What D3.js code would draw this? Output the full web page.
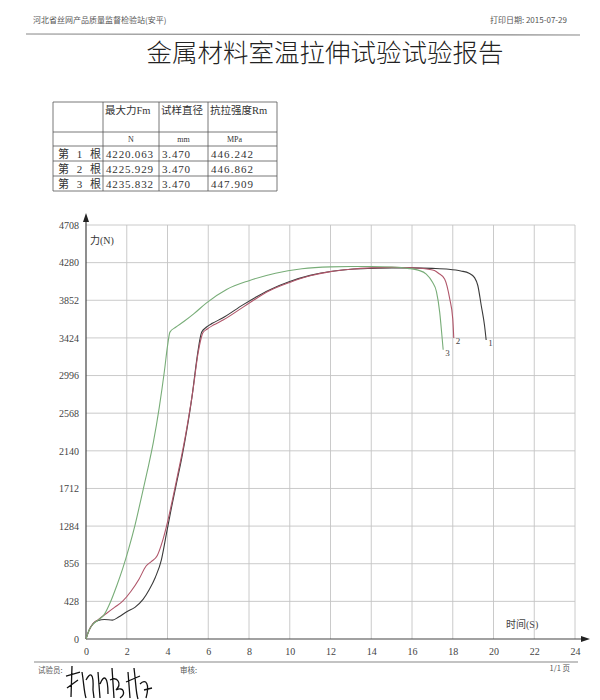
<!DOCTYPE html>
<html><head><meta charset="utf-8">
<script src="https://cdn.jsdelivr.net/npm/d3@7"></script>
<style>
html,body{margin:0;padding:0;background:#fff;}
svg{display:block;}
text{font-family:"Liberation Serif","DejaVu Serif","Noto Sans CJK SC",serif;fill:#333;}
</style></head>
<body>
<svg id="c" width="600" height="700"></svg>
<script>
// ---------- data ----------
const xTicks = [0,2,4,6,8,10,12,14,16,18,20,22,24];
const yTicks = [0,428,856,1284,1712,2140,2568,2996,3424,3852,4280,4708];

// specimen 1 (dark)
const t1 = [0,0.15,0.35,0.6,0.9,1.3,1.6,2.0,2.4,2.8,3.1,3.4,3.7,3.95,4.2,4.45,4.7,4.95,5.2,5.45,5.6,5.68,5.9,6.2,6.7,7.7,9.0,10,11,12,13,14,15,16,17,17.8,18.4,18.8,19.07,19.23,19.4,19.56,19.64];
const f1 = [0,100,175,212,222,215,250,310,360,450,560,700,900,1200,1500,1780,2060,2380,2750,3200,3420,3490,3545,3590,3650,3800,3970,4065,4135,4180,4205,4215,4220,4220,4215,4205,4185,4160,4110,4020,3790,3565,3400];
// specimen 2 (red)
const t2 = [0,0.15,0.35,0.6,1.0,1.4,1.8,2.2,2.6,2.95,3.2,3.5,3.75,4.0,4.25,4.5,4.75,5.0,5.25,5.5,5.65,5.73,5.95,6.25,6.75,7.75,9.0,10,11,12,13,14,15,16,16.8,17.1,17.3,17.6,17.85,18.0,18.05];
const f2 = [0,100,175,220,290,360,430,540,680,830,880,950,1110,1330,1590,1870,2150,2470,2830,3250,3420,3480,3525,3570,3630,3780,3960,4055,4130,4178,4205,4220,4226,4222,4205,4190,4160,4095,3870,3640,3424];
// specimen 3 (green)
const t3 = [0,0.15,0.35,0.6,0.9,1.2,1.5,1.8,2.1,2.4,2.7,3.0,3.3,3.6,3.85,4.0,4.12,4.4,4.8,5.3,5.9,6.9,8,9.3,10.6,12,13,14,15,15.8,16.3,16.7,17.0,17.2,17.36,17.48,17.53];
const f3 = [0,100,170,215,280,420,600,800,1030,1290,1590,1900,2230,2640,3050,3330,3490,3545,3610,3700,3820,3975,4075,4160,4210,4232,4236,4236,4230,4215,4195,4150,4060,3950,3715,3420,3290];
const seriesNames = ["1","2","3"];
const seriesColors = ["#3a3a3a","#b0566a","#78ad78"];

// table
const tableHeaders = ["最大力Fm","试样直径","抗拉强度Rm"];
const tableUnits = ["N","mm","MPa"];
const rowLabels = ["第 1 根","第 2 根","第 3 根"];
const maxForce = ["4220.063","4225.929","4235.832"];
const diameter = ["3.470","3.470","3.470"];
const strength = ["446.242","446.862","447.909"];

// ---------- drawing ----------
const svg = d3.select("#c");
const cjk = '"Noto Sans CJK SC",sans-serif';

// header
svg.append("text").attr("x",33).attr("y",23).attr("font-size",8).style("font-family",cjk).style("fill","#555")
  .text("河北省丝网产品质量监督检验站(安平)");
svg.append("text").attr("x",567).attr("y",23).attr("text-anchor","end").attr("font-size",8).style("font-family",cjk).style("fill","#555")
  .text("打印日期: 2015-07-29");
svg.append("line").attr("x1",26).attr("x2",580).attr("y1",34).attr("y2",35).attr("stroke","#888").attr("stroke-width",1.2);

// title
svg.append("text").attr("x",325).attr("y",62).attr("text-anchor","middle").attr("font-size",25.5)
  .style("font-family",cjk).style("font-weight",300).style("fill","#222")
  .text("金属材料室温拉伸试验试验报告");

// table
const colX = [53,103,159,208,277];
const rowY = [102,132,146,161,176,191];
const tg = svg.append("g");
colX.forEach(x=>tg.append("line").attr("x1",x).attr("x2",x).attr("y1",rowY[0]).attr("y2",rowY[rowY.length-1]).attr("stroke","#555").attr("stroke-width",0.8));
rowY.forEach(y=>tg.append("line").attr("x1",colX[0]).attr("x2",colX[colX.length-1]).attr("y1",y).attr("y2",y).attr("stroke","#555").attr("stroke-width",0.8));
tableHeaders.forEach((h,i)=>{
  tg.append("text").attr("x",colX[i+1]+2).attr("y",114).attr("font-size",10.5).style("fill","#333").text(h);
});
tableUnits.forEach((u,i)=>{
  tg.append("text").attr("x",(colX[i+1]+colX[i+2])/2 - (i===2?8:0)).attr("y",142).attr("text-anchor","middle").attr("font-size",8).style("fill","#333").text(u);
});
rowLabels.forEach((r,i)=>{
  const y = rowY[i+2]+11.5;
  tg.append("text").attr("x",58).attr("y",y).attr("font-size",11).style("fill","#333").attr("textLength",43).text(r);
  tg.append("text").attr("x",106).attr("y",y).attr("font-size",11).style("fill","#333").attr("textLength",47).text(maxForce[i]);
  tg.append("text").attr("x",162).attr("y",y).attr("font-size",11).style("fill","#333").attr("textLength",28).text(diameter[i]);
  tg.append("text").attr("x",211).attr("y",y).attr("font-size",11).style("fill","#333").attr("textLength",42).text(strength[i]);
});

// chart
const x = d3.scaleLinear().domain([0,24]).range([86,575]);
const y = d3.scaleLinear().domain([0,4708]).range([639,225]);
const g = svg.append("g");

// grid
g.selectAll(".vg").data(xTicks.slice(1)).join("line")
  .attr("x1",d=>x(d)).attr("x2",d=>x(d)).attr("y1",y(0)).attr("y2",y(4708))
  .attr("stroke","#c4c4c4").attr("stroke-width",0.9);
g.selectAll(".hg").data(yTicks.slice(1)).join("line")
  .attr("x1",x(0)).attr("x2",x(24)).attr("y1",d=>y(d)).attr("y2",d=>y(d))
  .attr("stroke","#c4c4c4").attr("stroke-width",0.9);

// axes
const yAxis = d3.axisLeft(y).tickValues(yTicks).tickSize(0).tickPadding(7).tickFormat(d=>d);
const ya = g.append("g").attr("transform",`translate(${x(0)},0)`).call(yAxis);
ya.select(".domain").remove();
ya.selectAll("text").attr("font-size",10).style("font-family","'Liberation Serif',serif").style("fill","#444");
const xAxis = d3.axisBottom(x).tickValues(xTicks).tickSize(0).tickPadding(9).tickFormat(d=>d);
const xa = g.append("g").attr("transform",`translate(0,${y(0)})`).call(xAxis);
xa.select(".domain").remove();
xa.selectAll("text").attr("font-size",10).style("font-family","'Liberation Serif',serif").style("fill","#444");

g.append("line").attr("x1",x(0)).attr("x2",x(0)).attr("y1",y(0)).attr("y2",218).attr("stroke","#444").attr("stroke-width",1.2);
g.append("path").attr("d",`M${x(0)},213 L${x(0)-3},222 L${x(0)+3},222 Z`).attr("fill","#222");
g.append("line").attr("x1",x(0)).attr("x2",584).attr("y1",y(0)).attr("y2",y(0)).attr("stroke","#444").attr("stroke-width",1.2);
g.append("path").attr("d",`M590,${y(0)} L581,${y(0)-3} L581,${y(0)+3} Z`).attr("fill","#222");

g.append("text").attr("x",x(0)+4).attr("y",244).attr("font-size",10).style("fill","#333").text("力(N)");
g.append("text").attr("x",506).attr("y",628).attr("font-size",10).style("fill","#444").text("时间(S)");

// curves
const series = [[t1,f1],[t2,f2],[t3,f3]];
const line = d3.line().x(d=>x(d[0])).y(d=>y(d[1])).curve(d3.curveMonotoneX);
series.forEach((s,i)=>{
  const pts = s[0].map((t,k)=>[t,s[1][k]]);
  g.append("path").datum(pts).attr("d",line).attr("fill","none")
    .attr("stroke",seriesColors[i]).attr("stroke-width",1.1);
  const last = pts[pts.length-1];
  g.append("text").attr("x",x(last[0])+2).attr("y",y(last[1])+6).attr("font-size",9).style("fill","#444").text(seriesNames[i]);
});

// footer
svg.append("line").attr("x1",34).attr("x2",578).attr("y1",662).attr("y2",662).attr("stroke","#888").attr("stroke-width",1.2);
svg.append("text").attr("x",38).attr("y",673).attr("font-size",7.5).style("font-family",cjk).style("fill","#555").text("试验员:");
svg.append("text").attr("x",180).attr("y",673).attr("font-size",7.5).style("font-family",cjk).style("fill","#555").text("审核:");
svg.append("text").attr("x",570).attr("y",671).attr("text-anchor","end").attr("font-size",7.5).style("font-family",cjk).style("fill","#555").text("1/1 页");
// signature scribble (decorative)
svg.append("path").attr("fill","none").attr("stroke","#111").attr("stroke-width",1.3)
  .attr("d","M66,676 L80,672 M72,666 L71,697 M67,688 L78,680 M82,672 C84,684 84,692 86,698 M86,680 C90,672 94,672 93,690 L94,698 M98,672 L100,698 M100,684 C104,674 108,676 108,694 M112,668 L114,698 M110,680 C118,676 122,684 116,690 C124,686 126,694 120,698 M128,672 L130,698 M126,682 L140,676 M134,668 C136,684 136,694 138,699 M140,684 C146,678 150,684 146,698 M144,690 L152,688");
</script>
</body></html>
